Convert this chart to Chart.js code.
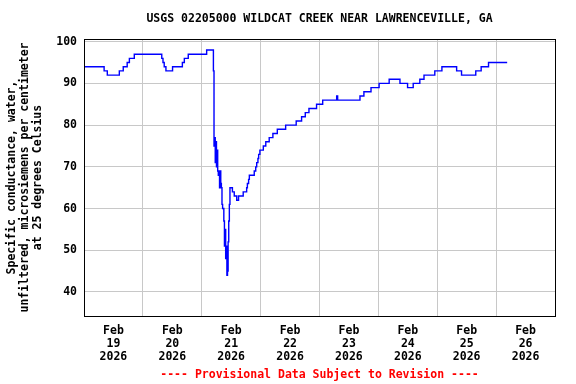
<!DOCTYPE html>
<html><head><meta charset="utf-8">
<script src="https://cdn.jsdelivr.net/npm/chart.js@4/dist/chart.umd.min.js"></script>
<style>html,body{margin:0;padding:0;background:#fff}</style>
</head><body>
<canvas id="c" width="576" height="384"></canvas>
<script>
// ---- data ----
const titleText = 'USGS 02205000 WILDCAT CREEK NEAR LAWRENCEVILLE, GA';
const footerText = '---- Provisional Data Subject to Revision ----';
const yAxisTitle = ['Specific conductance, water,', 'unfiltered, microsiemens per centimeter', 'at 25 degrees Celsius'];
const monthLabel = 'Feb';
const yearLabel = '2026';
const dayLabels = ['19', '20', '21', '22', '23', '24', '25', '26'];
const yTicks = [40, 50, 60, 70, 80, 90, 100];
// hours since Feb 19 2026 00:00
const hours = [0, 8.2, 9.5, 14.4, 16.0, 17.6, 18.5, 20.5, 31.7, 32.2,
  32.7, 33.4, 36.1, 40.1, 40.9, 42.5, 50.0, 52.75, 53.0, 53.25,
  53.5, 53.75, 54.0, 54.25, 54.5, 54.75, 55.0, 55.25, 55.5, 55.75,
  56.0, 56.25, 56.5, 57.0, 57.25, 57.5, 57.75, 58.0, 58.25, 58.5,
  58.75, 59.0, 59.25, 59.5, 60.5, 61.25, 62.25, 63.0, 64.9, 66.3,
  66.6, 67.1, 67.4, 69.4, 70.0, 70.4, 70.9, 71.2, 71.7, 73.1,
  74.1, 75.5, 77.0, 78.8, 82.2, 86.5, 88.7, 90.2, 91.7, 94.8,
  97.3, 103.0, 103.4, 112.5, 114.1, 117.0, 120.3, 124.4, 128.8, 131.9,
  134.2, 136.9, 138.6, 143.0, 145.9, 151.9, 153.9, 159.7, 161.9, 164.9,
  172.5];
const values = [94, 93, 92, 93, 94, 95, 96, 97, 96, 95,
  94, 93, 94, 95, 96, 97, 98, 93, 75, 77,
  71, 76, 70, 74, 69, 68, 69, 65, 69, 66,
  65, 61, 60, 57, 51, 55, 48, 51, 44, 45,
  52, 57, 61, 65, 64, 63, 62, 63, 64, 65,
  66, 67, 68, 69, 70, 71, 72, 73, 74, 75,
  76, 77, 78, 79, 80, 81, 82, 83, 84, 85,
  86, 87, 86, 87, 88, 89, 90, 91, 90, 89,
  90, 91, 92, 93, 94, 93, 92, 93, 94, 95,
  95];

// ---- chart ----
const FONT = 'DejaVu Sans Mono';
Chart.defaults.font.family = FONT;
Chart.defaults.font.weight = 'bold';
Chart.defaults.font.size = 11.5;
Chart.defaults.color = '#000';

const totalHours = dayLabels.length * 24;
const xTickValues = [];
for (let h = 0; h <= totalHours; h += 12) xTickValues.push(h);

const framePlugin = {
  id: 'frame',
  afterDraw(chart) {
    const {ctx, chartArea: a} = chart;
    ctx.save();
    ctx.strokeStyle = '#000';
    ctx.lineWidth = 1;
    ctx.strokeRect(Math.round(a.left) + 0.5, Math.round(a.top) + 0.5, Math.round(a.right - a.left), Math.round(a.bottom - a.top));
    const cx = (a.left + a.right) / 2;
    ctx.font = 'bold 11.5px "' + FONT + '"';
    ctx.textAlign = 'center';
    ctx.textBaseline = 'middle';
    ctx.fillStyle = '#000';
    ctx.fillText(titleText, cx, 19.5);
    ctx.fillStyle = '#ff0000';
    ctx.fillText(footerText, cx, 375);
    ctx.restore();
  }
};

new Chart(document.getElementById('c'), {
  type: 'line',
  data: {
    datasets: [{
      data: hours.map((h, i) => ({x: h, y: values[i]})),
      borderColor: '#0000ff',
      borderWidth: 1.4,
      pointRadius: 0,
      stepped: true,
      fill: false
    }]
  },
  options: {
    responsive: false,
    animation: false,
    layout: {padding: {left: 0, right: 21, top: 39, bottom: 0}},
    plugins: {legend: {display: false}, tooltip: {enabled: false}},
    scales: {
      x: {
        type: 'linear', min: 0, max: totalHours,
        afterBuildTicks: s => { s.ticks = xTickValues.map(v => ({value: v})); },
        afterFit: s => { s.height = 68; },
        border: {display: false},
        grid: {
          drawTicks: false,
          lineWidth: 1,
          color: c => (c.tick && c.tick.value % 24 === 0) ? '#c8c8c8' : 'rgba(0,0,0,0)'
        },
        ticks: {
          autoSkip: false, maxRotation: 0, minRotation: 0, padding: 9,
          font: {size: 11.5, weight: 'bold', lineHeight: 1.13},
          callback: v => (v % 24 === 12) ? [monthLabel, dayLabels[(v - 12) / 24], yearLabel] : ''
        }
      },
      y: {
        type: 'linear', min: 34.24, max: 100.65,
        afterBuildTicks: s => { s.ticks = yTicks.map(v => ({value: v})); },
        afterFit: s => { s.width = 84; },
        border: {display: false},
        grid: {drawTicks: false, color: '#c8c8c8', lineWidth: 1},
        ticks: {padding: 7, font: {size: 11.5, weight: 'bold'}},
        title: {
          display: true, text: yAxisTitle,
          padding: {top: 6, bottom: 0},
          font: {size: 11.5, weight: 'bold', lineHeight: 1.13}
        }
      }
    }
  },
  plugins: [framePlugin]
});
</script>
</body></html>
